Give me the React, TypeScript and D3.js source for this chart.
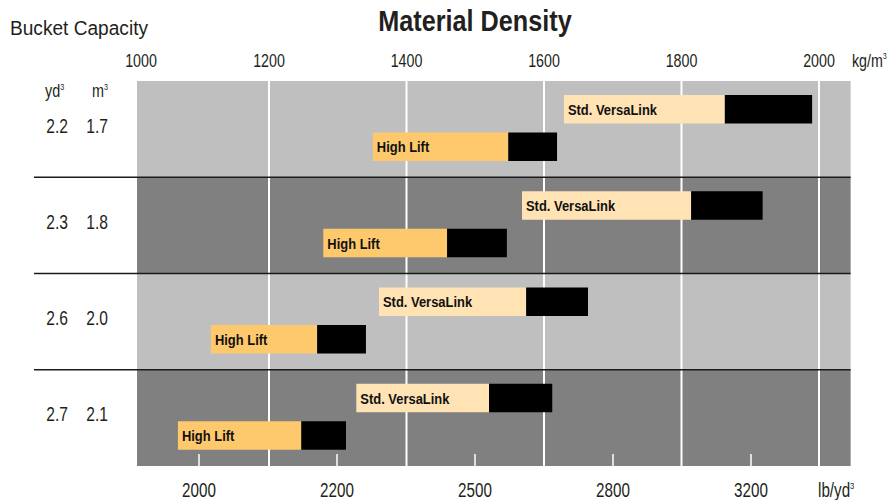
import React from "react";
import * as d3 from "d3";

// ---- data ----
const bucketYd3 = ["2.2", "2.3", "2.6", "2.7"];
const bucketM3 = ["1.7", "1.8", "2.0", "2.1"];
const seriesNames = ["Std. VersaLink", "High Lift"];
// kg/m³ values: start of range, start of black section, end of range
const stdStart = [1629, 1568, 1360, 1327];
const stdSplit = [1863, 1814, 1574, 1520];
const stdEnd = [1990, 1918, 1664, 1612];
const hlStart = [1351, 1279, 1112, 1062];
const hlSplit = [1548, 1459, 1270, 1247];
const hlEnd = [1619, 1546, 1341, 1312];
const topTicks = [1000, 1200, 1400, 1600, 1800, 2000];
const bottomTicks = ["2000", "2200", "2500", "2800", "3200"];

const FONT = "'Liberation Sans', Arial, sans-serif";
const INK = "#231f20";

type TProps = {
  x: number; y: number; size: number; sx?: number; anchor?: string; weight?: string; fill?: string;
  children: React.ReactNode;
};
function T({ x, y, size, sx = 0.78, anchor = "start", weight = "normal", fill = INK, children }: TProps) {
  return (
    <text transform={`translate(${x},${y}) scale(${sx},1)`} textAnchor={anchor} fontSize={size}
      fontWeight={weight} fill={fill}>
      {children}
    </text>
  );
}

export default function App() {
  const W = 894, H = 500;
  const top = 81, bottom = 466;
  const x = d3.scaleLinear().domain([1000, 1200, 2000]).range([137, 269, 819]);
  const plotLeft = x(1000);
  const plotRight = x(2046);
  const rows = d3.range(bucketYd3.length);
  const y = d3.scaleBand<number>().domain(rows).range([top, bottom]);
  const xb = d3.scalePoint<string>().domain(bottomTicks).range([199, 751]);
  const barH = 28.5;
  const stdOff = 14, hlOff = 51.5;

  const bars = [
    { name: seriesNames[0], s: stdStart, m: stdSplit, e: stdEnd, off: stdOff, fill: "#ffe3b4" },
    { name: seriesNames[1], s: hlStart, m: hlSplit, e: hlEnd, off: hlOff, fill: "#fec96d" },
  ];

  const sup = (s: string) => <tspan fontSize="0.5em" dy="-0.8em">{s}</tspan>;

  return (
    <div style={{ position: "fixed", left: 0, top: 0 }}>
      <svg width={W} height={H} style={{ display: "block", background: "#fff" }} fontFamily={FONT}>
        {rows.map((i) => (
          <rect key={"bg" + i} x={plotLeft} y={y(i)!} width={plotRight - plotLeft} height={y.bandwidth()}
            fill={i % 2 === 0 ? "#bfbfbf" : "#808080"} />
        ))}
        {topTicks.filter((t) => t > 1000).map((t) => (
          <line key={"g" + t} x1={x(t)} x2={x(t)} y1={top} y2={bottom} stroke="#fff" strokeWidth={2} />
        ))}
        {bottomTicks.map((t) => (
          <line key={"bt" + t} x1={xb(t)!} x2={xb(t)!} y1={bottom - 12} y2={bottom} stroke="#fff" strokeWidth={1.5} />
        ))}
        {rows.slice(1).map((i) => (
          <line key={"sep" + i} x1={34} x2={plotRight} y1={y(i)!} y2={y(i)!} stroke="#1a1a1a" strokeWidth={1.5} />
        ))}
        {bars.map((b) =>
          rows.map((i) => (
            <g key={b.name + i}>
              <rect x={x(b.s[i])} y={y(i)! + b.off} width={x(b.m[i]) - x(b.s[i])} height={barH} fill={b.fill} />
              <rect x={x(b.m[i])} y={y(i)! + b.off} width={x(b.e[i]) - x(b.m[i])} height={barH} fill="#000" />
              <T x={x(b.s[i]) + 4} y={y(i)! + b.off + barH / 2 + 5.5} size={15.5} sx={0.835} weight="bold" fill="#111">
                {b.name}
              </T>
            </g>
          ))
        )}
        {/* title & headers */}
        <T x={475} y={31} anchor="middle" size={29} sx={0.87} weight="bold">Material Density</T>
        <T x={10} y={35} size={21} sx={0.91}>Bucket Capacity</T>
        {topTicks.map((t) => (
          <T key={"tl" + t} x={x(t) + (t === 1000 ? 4 : 0)} y={66.5} anchor="middle" size={19} sx={0.75}>{t}</T>
        ))}
        <T x={852} y={66.5} size={19} sx={0.75}>kg/m{sup("3")}</T>
        {bottomTicks.map((t) => (
          <T key={"bl" + t} x={xb(t)!} y={496.5} anchor="middle" size={19.5} sx={0.78}>{t}</T>
        ))}
        <T x={818} y={496.5} size={19.5} sx={0.78}>lb/yd{sup("3")}</T>
        <T x={45} y={97} size={18} sx={0.8}>yd{sup("3")}</T>
        <T x={92} y={97} size={18} sx={0.8}>m{sup("3")}</T>
        {rows.map((i) => (
          <g key={"rl" + i}>
            <T x={68} y={y(i)! + y.bandwidth() / 2 + 3.5} anchor="end" size={20} sx={0.78}>{bucketYd3[i]}</T>
            <T x={108} y={y(i)! + y.bandwidth() / 2 + 3.5} anchor="end" size={20} sx={0.78}>{bucketM3[i]}</T>
          </g>
        ))}
      </svg>
    </div>
  );
}
